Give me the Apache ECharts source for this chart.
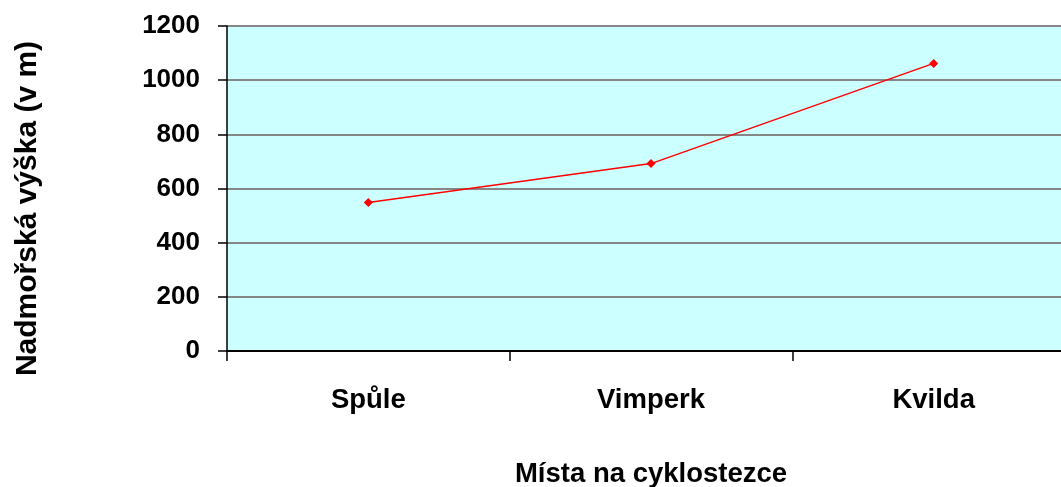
<!DOCTYPE html>
<html>
<head>
<meta charset="utf-8">
<script src="https://cdn.jsdelivr.net/npm/echarts@6/dist/echarts.min.js"></script>
<style>
html,body{margin:0;padding:0;background:#fff;overflow:hidden;}
#chart{width:1075px;height:487px;}
</style>
</head>
<body>
<div id="chart"></div>
<script>
const categories = ['Spůle', 'Vimperk', 'Kvilda'];
const altitudes = [548, 692, 1062];
const yTicks = [0, 200, 400, 600, 800, 1000, 1200];
const xAxisTitle = 'Místa na cyklostezce';
const yAxisTitle = 'Nadmořská výška (v m)';

const FONT = '"Liberation Sans", Arial, sans-serif';
const chart = echarts.init(document.getElementById('chart'), null, {renderer: 'canvas'});
chart.setOption({
  animation: false,
  backgroundColor: '#ffffff',
  grid: {
    left: 227, right: 0, top: 26, bottom: 136,
    outerBoundsMode: 'none',
    containLabel: false,
    show: true, backgroundColor: '#ccffff', borderWidth: 0
  },
  xAxis: {
    type: 'category',
    data: categories,
    boundaryGap: true,
    name: xAxisTitle,
    nameLocation: 'middle',
    nameGap: 109,
    nameTextStyle: {fontFamily: FONT, fontWeight: 'bold', fontSize: 27.5, color: '#000'},
    axisLine: {show: true, lineStyle: {color: '#000', width: 2}},
    axisTick: {show: true, alignWithLabel: false, length: 10, lineStyle: {color: '#000', width: 1.5}},
    axisLabel: {fontFamily: FONT, fontWeight: 'bold', fontSize: 27.5, color: '#000', margin: 35},
    splitLine: {show: false}
  },
  yAxis: {
    type: 'value',
    min: yTicks[0],
    max: yTicks[yTicks.length - 1],
    interval: yTicks[1] - yTicks[0],
    name: yAxisTitle,
    nameLocation: 'middle',
    nameGap: 184,
    nameRotate: 90,
    nameTextStyle: {fontFamily: FONT, fontWeight: 'bold', fontSize: 30, color: '#000', padding: [0, 40, 0, 0]},
    axisLine: {show: true, lineStyle: {color: '#000', width: 1.5}},
    axisTick: {show: true, length: 9, lineStyle: {color: '#000', width: 1.5}},
    axisLabel: {fontFamily: FONT, fontWeight: 'bold', fontSize: 26, color: '#000', margin: 27,
      formatter: function (v) { return String(v); }},
    splitLine: {show: true, lineStyle: {color: '#868686', width: 2}}
  },
  series: [{
    type: 'line',
    data: altitudes,
    symbol: 'diamond',
    symbolSize: 9,
    showSymbol: true,
    lineStyle: {color: '#ff0000', width: 1.5},
    itemStyle: {color: '#ff0000'}
  }]
});
</script>
</body>
</html>
